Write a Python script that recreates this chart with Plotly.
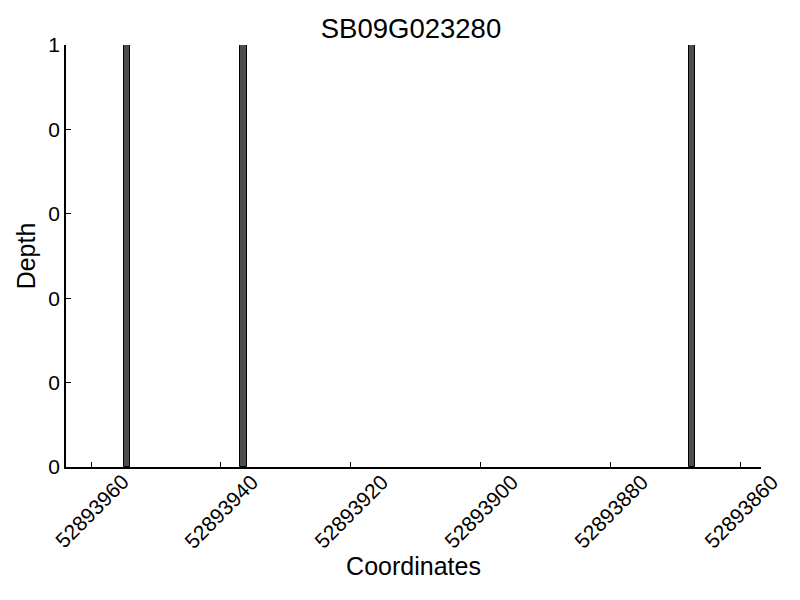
import plotly.graph_objects as go

title = "SB09G023280"
positions = [52893954, 52893936, 52893867]
depths = [1, 1, 1]
x_ticks = [52893960, 52893940, 52893920, 52893900, 52893880, 52893860]
x_tick_labels = [str(v) for v in x_ticks]
y_ticks = [0, 0.2, 0.4, 0.6, 0.8, 1.0]
y_tick_labels = ["0", "0", "0", "0", "0", "1"]
x_range = [52893963.85, 52893856.9]

font = "Liberation Sans, Arial, Helvetica, sans-serif"

fig = go.Figure()
fig.add_trace(go.Bar(
    x=positions, y=depths, width=1, offset=0,
    marker=dict(color="#4d4d4d", line=dict(color="black", width=1)),
))
fig.update_layout(
    width=800, height=600,
    margin=dict(l=58, r=47, t=37, b=141),
    plot_bgcolor="white", paper_bgcolor="white",
    font=dict(family=font, color="black", size=22),
    title=dict(text=title, x=403/800, xanchor="center", y=1 - 20/600, yanchor="middle",
               font=dict(size=27.5)),
    showlegend=False, bargap=0,
)
# x tick labels centred under their ticks (rotated 45 degrees)
for v, lab in zip(x_ticks, x_tick_labels):
    fig.add_annotation(
        x=v, xref="x", y=0, yref="paper", yshift=-44,
        text=lab, textangle=-45, showarrow=False,
        xanchor="center", yanchor="middle",
        font=dict(size=21, family=font, color="black"),
    )
fig.update_xaxes(
    range=x_range, tickvals=x_ticks, showticklabels=False,
    ticks="inside", ticklen=5, tickcolor="black",
    showline=True, linecolor="black", linewidth=1.5, showgrid=False, zeroline=False,
    title=dict(text="Coordinates", font=dict(size=25), standoff=90),
    automargin=False,
)
fig.update_yaxes(
    range=[0, 1], tickvals=y_ticks, ticktext=y_tick_labels,
    ticks="inside", ticklen=5, tickcolor="black",
    showline=True, linecolor="black", linewidth=1.5, showgrid=False, zeroline=False,
    title=dict(text="Depth", font=dict(size=25), standoff=6),
    tickfont=dict(size=21), automargin=False,
)
fig.write_html("out.html")
